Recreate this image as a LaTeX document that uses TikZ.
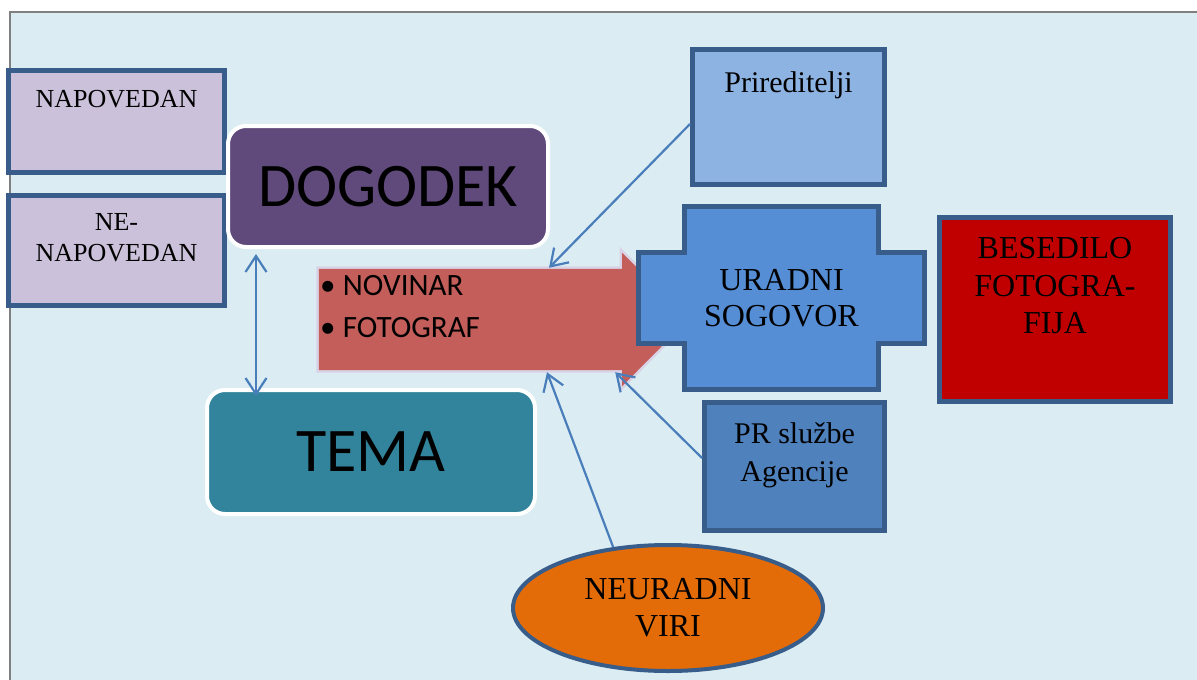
\documentclass[tikz,border=0pt]{standalone}
\usepackage{fontspec}
\setmainfont{Liberation Serif}
\newfontfamily\calib{Carlito}
\usetikzlibrary{arrows.meta,shapes.geometric,calc}
\definecolor{bgc}{HTML}{DBEDF3}
\definecolor{framec}{HTML}{808080}
\definecolor{bdc}{HTML}{385D8A}
\definecolor{lavc}{HTML}{CCC1DA}
\definecolor{purpc}{HTML}{604A7B}
\definecolor{temac}{HTML}{31849B}
\definecolor{arrc}{HTML}{C35E5A}
\definecolor{glowc}{HTML}{D9D2E6}
\definecolor{uradc}{HTML}{558ED5}
\definecolor{prirc}{HTML}{8DB3E2}
\definecolor{prc}{HTML}{4F81BD}
\definecolor{besc}{HTML}{C00000}
\definecolor{neurc}{HTML}{E36C09}
\definecolor{conc}{HTML}{4A7EBB}
\pgfdeclarelayer{back}
\pgfdeclarelayer{shapes}
\pgfsetlayers{back,shapes,main}
\newcommand{\tbox}[4]{\parbox[t][#2][t]{#1}{\centering\vspace*{#3}#4\par}}
\begin{document}
\begin{tikzpicture}[x=1pt,y=-1pt,
  sqbox/.style={draw=bdc, line width=5pt, inner sep=0pt, rectangle},
  rbox/.style={draw=white, line width=4pt, rounded corners=18pt, inner sep=0pt, font=\calib\fontsize{62}{70}\selectfont},
  conn/.style={draw=conc, line width=2.2pt},
  barbend/.style={-{Straight Barb[length=16pt,width=21pt]}},
  barbboth/.style={{Straight Barb[length=16pt,width=21pt]}-{Straight Barb[length=16pt,width=21pt]}}
]
\useasboundingbox (0,0) rectangle (1197,680);
\begin{pgfonlayer}{back}
\fill[white] (0,0) rectangle (1197,680);
\draw[framec, line width=2pt, fill=bgc] (10,12) rectangle (1230,720);
\end{pgfonlayer}

% left boxes
\node[sqbox, fill=lavc, font=\fontsize{26}{31}\selectfont] (nap) at (116.5,121.5)
  {\tbox{216pt}{102pt}{19.3pt}{NAPOVEDAN}};
\node[sqbox, fill=lavc, font=\fontsize{26}{31}\selectfont] (nenap) at (116.5,250.5)
  {\tbox{216pt}{110pt}{18.3pt}{NE-\\NAPOVEDAN}};

% rounded boxes
\node[rbox, fill=purpc, minimum width=320pt, minimum height=121pt] (dog) at (388,186.5) {DOGODEK};
\node[rbox, fill=temac, minimum width=328pt, minimum height=124pt] (tema) at (371,452) {TEMA};

% arrow body with bullets
\node[inner sep=0pt, font=\calib\fontsize{31}{42}\selectfont] (body) at (470.5,319.5)
  {\parbox[t][101pt][t]{303pt}{\raggedright\vspace*{6pt}\makebox[24pt][l]{\hspace*{1pt}\textbullet}NOVINAR\\
   \makebox[24pt][l]{\hspace*{1pt}\textbullet}FOTOGRAF\par}};

% cross text
\node[inner sep=0pt, minimum width=286pt, minimum height=183pt, align=center,
  font=\fontsize{32}{36}\selectfont] (urad) at (781.5,298) {\raisebox{2pt}{\parbox{250pt}{\centering URADNI\\SOGOVOR}}};

\begin{pgfonlayer}{shapes}
\path[fill=arrc, preaction={draw=glowc, line width=5pt}]
  (body.north west) -- (body.north east) -- ($(body.north east)+(0,-16)$)
  -- ($(body.east)+(66,0)$) -- ($(body.south east)+(0,16)$) -- (body.south east)
  -- (body.south west) -- cycle;
\draw[draw=bdc, line width=5pt, fill=uradc, line join=miter]
  ($(urad.north west)+(46,0)$) -- ($(urad.north east)+(-46,0)$) -- ($(urad.north east)+(-46,46)$)
  -- ($(urad.north east)+(0,46)$) -- ($(urad.south east)+(0,-46)$) -- ($(urad.south east)+(-46,-46)$)
  -- ($(urad.south east)+(-46,0)$) -- ($(urad.south west)+(46,0)$) -- ($(urad.south west)+(46,-46)$)
  -- ($(urad.south west)+(0,-46)$) -- ($(urad.north west)+(0,46)$) -- ($(urad.north west)+(46,46)$)
  -- cycle;
\end{pgfonlayer}

% right boxes
\node[sqbox, fill=prirc, font=\fontsize{30}{36}\selectfont] (prir) at (788.5,117)
  {\tbox{192pt}{135pt}{22pt}{Prireditelji}};
\node[sqbox, fill=prc, font=\fontsize{30}{38}\selectfont] (pr) at (794.5,466.5)
  {\tbox{180pt}{128pt}{20pt}{PR službe\\Agencije}};
\node[sqbox, fill=besc, font=\fontsize{32}{37.5}\selectfont] (bes) at (1055,309.5)
  {\tbox{231pt}{184pt}{20.3pt}{BESEDILO\\FOTOGRA-\\FIJA}};

% ellipse
\node[ellipse, draw=bdc, line width=4pt, fill=neurc, minimum width=310pt, minimum height=126pt,
  inner sep=0pt, align=center, font=\fontsize{32}{37}\selectfont] (neur) at (668,608) {NEURADNI\\VIRI};

% connectors
\draw[conn, barbboth] ([xshift=30pt,yshift=-5pt]dog.south west) -- ([xshift=51pt,yshift=-8pt]tema.north west);
\draw[conn, barbend] ([yshift=-7pt]prir.west) -- ([xshift=78.5pt,yshift=1pt]body.north);
\draw[conn, barbend] ([yshift=8.5pt]pr.west) -- ([xshift=-7pt,yshift=-2pt]body.south east);
\draw[conn, barbend] (neur.132) -- ([xshift=76.5pt,yshift=-2pt]body.south);
\end{tikzpicture}
\end{document}
